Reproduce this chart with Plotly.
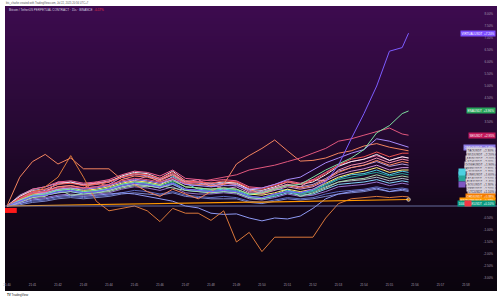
import pandas as pd
import plotly.graph_objects as go

# ---------------- data ----------------
start_time = "2025-07-22 21:40:00"
last_time = "2025-07-22 21:55:45"
times = list(pd.date_range(start_time, periods=32, freq="30s")) + [pd.Timestamp(last_time)]

# percent change series (comparison symbols)
virtual = [0, 0.2, 0.4, 0.45, 0.6, 0.65, 0.55, 0.6, 0.7, 0.85,
           0.95, 0.9, 0.8, 0.95, 0.7, 0.65, 0.6, 0.65, 0.6, 0.4,
           0.35, 0.5, 0.6, 0.55, 0.7, 1.0, 1.7, 2.8, 3.85, 5.0,
           6.45, 6.6, 7.2]
ena = [0, 0.25, 0.45, 0.5, 0.65, 0.7, 0.6, 0.65, 0.75, 0.9,
       1.0, 0.95, 0.85, 1.05, 0.8, 0.75, 0.7, 0.75, 0.7, 0.5,
       0.55, 0.7, 0.85, 0.9, 1.2, 1.5, 1.75, 2.0, 2.35, 3.05,
       3.35, 3.85, 3.96]
sei = [0, 0.3, 0.55, 0.6, 0.75, 0.8, 0.75, 0.8, 0.9, 1.05,
       1.15, 1.1, 1.0, 1.15, 0.95, 1.0, 1.1, 1.2, 1.3, 1.5,
       1.6, 1.7, 1.85, 2.0, 2.2, 2.4, 2.7, 2.8, 2.95, 3.1,
       3.25, 3.0, 2.95]
ondo = [0, 0.2, 0.45, 0.55, 0.7, 0.75, 0.7, 0.75, 0.85, 1.0,
        1.1, 1.05, 0.95, 1.1, 0.9, 0.85, 0.8, 0.85, 0.85, 0.7,
        0.75, 0.9, 1.1, 1.2, 1.5, 1.8, 2.0, 2.2, 2.35, 2.8,
        2.7, 2.55, 2.45]
hbar = [0, 0.1, 0.25, 0.3, 0.4, 0.45, 0.4, 0.45, 0.5, 0.55,
        0.5, 0.4, 0.3, 0.2, 0.0, -0.08, -0.3, -0.35, -0.33, -0.5,
        -0.62, -0.5, -0.54, -0.42, -0.1, 0.3, 0.5, 0.6, 0.65, 0.75,
        0.6, 0.7, 0.65]
tao = [0, 1.2, 1.85, 2.15, 1.75, 2.0, 1.55, 1.55, 1.55, 1.1,
       0.9, 0.6, 0.4, 0.7, 0.5, 0.3, 0.6, 0.9, 1.75, 2.1,
       2.4, 2.75, 2.3, 1.87, 1.9, 2.0, 2.2, 2.3, 2.5, 2.6,
       2.45, 2.35, 2.3]
ordi = [0, 0.3, 0.5, 0.8, 1.2, 2.1, 1.2, 0.2, -0.2, -0.1,
        0.0, -0.2, -0.65, -0.1, -0.3, -0.3, -0.6, -0.2, -1.5, -1.1,
        -1.9, -1.3, -1.3, -1.3, -1.3, -0.5, 0.1, 0.3, 0.35, 0.4,
        0.35, 0.4, 0.38]
btcdom = [0, 0.01, 0.02, 0.03, 0.04, 0.05, 0.06, 0.07, 0.08, 0.09,
          0.1, 0.1, 0.11, 0.12, 0.12, 0.13, 0.14, 0.14, 0.15, 0.16,
          0.16, 0.17, 0.18, 0.18, 0.19, 0.2, 0.21, 0.22, 0.23, 0.24,
          0.25, 0.26, 0.27]

wld = [0, 0.35, 0.6, 0.7, 0.9, 0.95, 0.85, 0.9, 1.0, 1.2,
       1.35, 1.3, 1.15, 1.4, 1.05, 1.0, 0.95, 1.05, 1.0, 0.75,
       0.7, 0.85, 1.0, 0.9, 1.05, 1.35, 1.7, 1.95, 2.05, 2.25,
       2.05, 2.2, 2.2]
eth = [0, 0.4, 0.65, 0.7, 0.9, 1.0, 0.85, 0.9, 1.0, 1.25,
       1.4, 1.35, 1.15, 1.45, 1.05, 1.0, 0.95, 1.0, 0.95, 0.7,
       0.65, 0.8, 1.0, 0.9, 1.0, 1.3, 1.65, 1.85, 1.95, 2.15,
       1.9, 2.05, 2.0]
aave = [0, 0.4, 0.7, 0.8, 1.0, 1.05, 0.95, 1.0, 1.1, 1.3,
        1.45, 1.4, 1.25, 1.5, 1.15, 1.1, 1.05, 1.1, 1.05, 0.8,
        0.75, 0.9, 1.05, 0.95, 1.1, 1.4, 1.7, 1.85, 1.95, 2.1,
        1.9, 2.05, 2.0]
doge = [0, 0.3, 0.6, 0.55, 1.0, 0.95, 0.9, 0.95, 1.05, 1.2,
        1.3, 1.3, 1.1, 1.35, 1.0, 1.1, 0.8, 0.95, 0.9, 0.6,
        0.55, 0.75, 0.9, 0.8, 1.1, 1.05, 1.5, 1.7, 1.8, 2.0,
        1.8, 1.95, 1.9]
pepe = [0, 0.3, 0.5, 0.6, 0.8, 0.85, 0.75, 1.0, 0.8, 1.1,
        1.25, 1.2, 1.05, 1.3, 0.95, 0.9, 0.85, 0.9, 1.0, 0.7,
        0.5, 0.7, 0.85, 0.75, 0.85, 1.1, 1.4, 1.6, 1.7, 1.9,
        1.7, 1.85, 1.8]
sui = [0, 0.45, 0.7, 0.8, 0.95, 1.0, 0.9, 0.95, 1.0, 1.2,
       1.35, 1.25, 1.1, 1.3, 1.0, 0.95, 0.9, 0.95, 0.9, 0.65,
       0.6, 0.75, 0.9, 0.8, 0.9, 1.15, 1.45, 1.6, 1.7, 1.85,
       1.65, 1.75, 1.7]
link = [0, 0.3, 0.55, 0.65, 0.8, 0.85, 0.75, 0.8, 0.9, 1.2,
        1.05, 1.25, 1.0, 1.2, 0.9, 0.85, 0.95, 0.7, 0.8, 0.55,
        0.5, 0.65, 0.8, 0.7, 0.8, 1.05, 1.3, 1.45, 1.55, 1.7,
        1.5, 1.6, 1.6]
ada = [0, 0.25, 0.5, 0.55, 0.7, 0.75, 0.65, 0.7, 0.8, 0.95,
       1.05, 1.0, 0.9, 1.1, 0.8, 0.75, 0.7, 0.75, 0.7, 0.5,
       0.45, 0.55, 0.7, 0.6, 0.7, 0.95, 1.2, 1.35, 1.45, 1.6,
       1.4, 1.5, 1.5]
avax = [0, 0.25, 0.45, 0.5, 0.65, 0.7, 0.6, 0.65, 0.7, 0.9,
        1.0, 0.95, 0.85, 1.25, 0.95, 0.7, 0.65, 0.7, 0.65, 0.45,
        0.55, 0.7, 0.65, 0.55, 0.65, 0.9, 1.15, 1.3, 1.35, 1.5,
        1.3, 1.45, 1.4]
sol = [0, 0.2, 0.4, 0.5, 0.6, 0.65, 0.55, 0.6, 0.7, 0.85,
       0.95, 0.9, 0.8, 1.0, 0.7, 0.65, 0.6, 0.65, 0.6, 0.4,
       0.35, 0.45, 0.6, 0.5, 0.6, 0.85, 1.1, 1.2, 1.3, 1.4,
       1.25, 1.35, 1.3]
xrp = [0, 0.2, 0.35, 0.4, 0.7, 0.45, 0.5, 0.55, 0.6, 0.75,
       0.85, 0.8, 0.85, 0.75, 0.65, 0.6, 0.55, 0.6, 0.55, 0.35,
       0.3, 0.45, 0.7, 0.4, 0.55, 0.75, 1.0, 1.1, 1.15, 1.3,
       1.15, 1.25, 1.2]
ltc = [0, 0.15, 0.35, 0.45, 0.55, 0.6, 0.55, 0.6, 0.65, 0.8,
       0.9, 0.85, 0.75, 0.95, 0.7, 0.65, 0.6, 0.65, 0.6, 0.4,
       0.35, 0.5, 0.6, 0.5, 0.6, 0.8, 1.0, 1.05, 1.1, 1.2,
       1.05, 1.15, 1.1]
bnb = [0, 0.2, 0.4, 0.45, 0.55, 0.6, 0.5, 0.55, 0.65, 0.8,
       0.9, 0.85, 0.75, 0.9, 0.65, 0.6, 0.55, 0.6, 0.55, 0.35,
       0.3, 0.4, 0.55, 0.45, 0.5, 0.7, 0.9, 0.95, 1.0, 1.1,
       0.95, 1.05, 1.0]
dot = [0, 0.15, 0.3, 0.35, 0.45, 0.5, 0.45, 0.5, 0.55, 0.7,
       0.8, 0.75, 0.65, 0.8, 0.55, 0.5, 0.5, 0.55, 0.5, 0.3,
       0.25, 0.35, 0.5, 0.4, 0.45, 0.6, 0.8, 0.85, 0.9, 1.0,
       0.85, 0.95, 0.9]
trx = [0, 0.1, 0.2, 0.25, 0.35, 0.4, 0.35, 0.4, 0.45, 0.55,
       0.65, 0.6, 0.5, 0.6, 0.45, 0.4, 0.35, 0.4, 0.35, 0.2,
       0.15, 0.25, 0.35, 0.3, 0.35, 0.5, 0.6, 0.65, 0.7, 0.8,
       0.7, 0.75, 0.7]
bch = [0, 0.05, 0.15, 0.2, 0.3, 0.35, 0.3, 0.35, 0.4, 0.5,
       0.55, 0.5, 0.45, 0.55, 0.4, 0.35, 0.3, 0.3, 0.3, 0.15,
       0.1, 0.2, 0.3, 0.25, 0.3, 0.4, 0.5, 0.55, 0.6, 0.7,
       0.6, 0.65, 0.6]

# main series first bar (percent)
btc_bar_time = ["2025-07-22 21:40:09"]
btc_bar_low = [-0.29]
btc_bar_high = [-0.08]
zero_level = 0.0

# price-scale labels visible in the reference (others are hidden under value labels)
y_tick_values = [8.0, 7.5, 7.0, 6.5, 6.0, 5.5, 5.0, 4.5, 3.5,
                 -0.5, -1.0, -1.5, -2.0, -2.5, -3.0]

# ---------------- series table ----------------
# (symbol, colour, values, label_bg, label_fg, tag_colour)
series = [
    ("BCHUSDT", "#7986cb", bch, None, None, None),
    ("TRXUSDT", "#5c6bc0", trx, None, None, None),
    ("DOTUSDT", "#9575cd", dot, None, None, None),
    ("BNBUSDT", "#81d4fa", bnb, None, None, None),
    ("HBARUSDT", "#8e99f3", hbar, None, None, None),
    ("LTCUSDT", "#b0bec5", ltc, "#d6d0da", "#2a2230", None),
    ("XRPUSDT", "#a5d6a7", xrp, "#d6d0da", "#2a2230", None),
    ("SOLUSDT", "#26a69a", sol, "#d6d0da", "#2a2230", "#7e57c2"),
    ("AVAXUSDT", "#4dd0e1", avax, "#d6d0da", "#2a2230", None),
    ("ADAUSDT", "#fff176", ada, "#d6d0da", "#2a2230", "#26a69a"),
    ("LINKUSDT", "#ce93d8", link, "#d6d0da", "#2a2230", "#4dd0e1"),
    ("SUIUSDT", "#b39ddb", sui, "#d6d0da", "#2a2230", "#4dd0e1"),
    ("PEPEUSDT", "#ff8a65", pepe, "#d6d0da", "#2a2230", None),
    ("DOGEUSDT", "#f48fb1", doge, "#d6d0da", "#2a2230", None),
    ("AAVEUSDT", "#f06292", aave, "#d6d0da", "#2a2230", None),
    ("ETHUSDT", "#eceaf2", eth, "#d6d0da", "#2a2230", None),
    ("WLDUSDT", "#ef5350", wld, "#d6d0da", "#2a2230", None),
    ("TAOUSDT", "#f4845f", tao, "#d6d0da", "#2a2230", None),
    ("ORDIUSDT", "#d9773a", ordi, "#f57c00", "#ffffff", None),
    ("ONDOUSDT", "#a78bfa", ondo, "#8c7ae6", "#ffffff", None),
    ("SEIUSDT", "#e2577d", sei, "#c2185b", "#ffffff", None),
    ("ENAUSDT", "#7ee0a0", ena, "#27a35a", "#ffffff", None),
    ("VIRTUALUSDT", "#7c5cff", virtual, "#7c4dff", "#ffffff", None),
    ("BTCDOMUSDT", "#ff9800", btcdom, "#ff9800", "#ffffff", None),
]
extra_labels = [(0.10, "1000BONKUSDT  +0.10%", "#089981", "#ffffff", "#f23645")]

# ---------------- figure ----------------
W, H = 500, 300
ML, MR, MT, MB = 3, 4, 6, 18
plot_w, plot_h = W - ML - MR, H - MT - MB
def px_x(px):
    return (px - ML) / plot_w
def px_y(py):
    return (H - MB - py) / plot_h

fig = go.Figure()

# gradient background (TradingView-like)
stops = [(6, (61, 11, 79)), (130, (38, 9, 50)), (210, (19, 5, 25)), (291, (10, 4, 13))]
def grad(py):
    for (a, ca), (b, cb) in zip(stops[:-1], stops[1:]):
        if a <= py <= b:
            t = (py - a) / (b - a)
            return tuple(int(round(ca[k] + (cb[k] - ca[k]) * t)) for k in range(3))
    return stops[-1][1]
shapes = []
step = 3
for py in range(6, 291, step):
    c = grad(py + step / 2)
    shapes.append(dict(type="rect", xref="paper", yref="paper", layer="below",
                       x0=px_x(3), x1=px_x(497), y0=px_y(py), y1=px_y(min(py + step + 0.5, 291)),
                       fillcolor="rgb(%d,%d,%d)" % c, line=dict(width=0)))
shapes.append(dict(type="line", xref="paper", yref="y", x0=px_x(3), x1=px_x(497),
                   y0=zero_level, y1=zero_level, line=dict(color="#7a86bf", width=0.8)))

fig.add_trace(go.Bar(x=btc_bar_time, y=[h - l for h, l in zip(btc_bar_high, btc_bar_low)],
                     base=btc_bar_low, width=28000, marker=dict(color="#ff1a1a", line=dict(width=0)),
                     hoverinfo="skip"))

for sym, col, vals, *_ in series:
    is_dom = sym == "BTCDOMUSDT"
    fig.add_trace(go.Scatter(
        x=times, y=vals, mode="lines+markers" if is_dom else "lines",
        line=dict(color=col, width=1.2 if is_dom else 1),
        marker=dict(size=[0] * (len(vals) - 1) + [3.5], color=col) if is_dom else None,
        hoverinfo="skip"))

# right-hand value labels, stacked like TradingView
labels = []
for sym, col, vals, bg, fg, tag in series:
    if bg:
        labels.append((vals[-1], f"{sym}  {vals[-1]:+.2f}%", bg, fg, tag))
for item in extra_labels:
    labels.append(item)
labels.sort(key=lambda t: -t[0])
gap = 0.14
prev = None
annotations = []
for v, text, bg, fg, tag in labels:
    y = v if prev is None else min(v, prev - gap)
    prev = y
    annotations.append(dict(x=px_x(496), xref="paper", xanchor="right", y=y, yref="y",
                            yanchor="middle", text=text, showarrow=False, bgcolor=bg,
                            borderpad=0.6, font=dict(size=3, color=fg, family="Liberation Sans")))
    if tag:
        tx = px_x(472) if bg == "#089981" else px_x(466)
        annotations.append(dict(x=tx, xref="paper", xanchor="right", y=y, yref="y",
                                yanchor="middle", text="&nbsp;" * 6, showarrow=False,
                                bgcolor=tag, borderpad=0.6,
                                font=dict(size=3, color=fg, family="Liberation Sans")))

annotations.append(dict(x=px_x(2), xref="paper", xanchor="left", y=px_y(3), yref="paper",
                        yanchor="middle", showarrow=False,
                        text="btc_charlie created with TradingView.com, Jul 22, 2025 20:56 UTC+7",
                        font=dict(size=2.7, color="#555555", family="Liberation Sans")))
annotations.append(dict(x=px_x(5), xref="paper", xanchor="left", y=px_y(10), yref="paper",
                        yanchor="middle", showarrow=False,
                        text="Bitcoin / TetherUS PERPETUAL CONTRACT · 15s · BINANCE  "
                             "<span style='color:#f23645'>-0.17%</span>",
                        font=dict(size=3, color="#d8d0e0", family="Liberation Sans")))
annotations.append(dict(x=px_x(3), xref="paper", xanchor="left", y=px_y(295), yref="paper",
                        yanchor="middle", showarrow=False, text="<b>TV</b> TradingView",
                        font=dict(size=3, color="#222222", family="Liberation Sans")))

x_left = pd.Timestamp(start_time) - pd.Timedelta(seconds=2 / 25.6 * 60)
x_right = pd.Timestamp(start_time) + pd.Timedelta(seconds=(496 - 5) / 25.6 * 60)
px_per_pct = 24.0
y_top = (206 - MT) / px_per_pct
y_bot = -((H - MB) - 206) / px_per_pct

fig.update_layout(
    width=W, height=H, margin=dict(l=ML, r=MR, t=MT, b=MB),
    paper_bgcolor="#ffffff", plot_bgcolor="rgb(20,5,26)",
    showlegend=False, hovermode=False, barmode="overlay",
    shapes=shapes, annotations=annotations,
    xaxis=dict(type="date", range=[x_left, x_right], dtick=60000, tickformat="%H:%M",
               showgrid=False, zeroline=False, showline=False, ticks="",
               tickfont=dict(size=3, color="#a49cae", family="Liberation Sans")),
    yaxis=dict(range=[y_bot, y_top], side="right", ticklabelposition="inside",
               tickvals=y_tick_values, ticktext=[f"{v:.2f}%" for v in y_tick_values],
               showgrid=False, zeroline=False, showline=False, ticks="",
               tickfont=dict(size=3, color="#a49cae", family="Liberation Sans")),
)

fig.write_html("out.html")
